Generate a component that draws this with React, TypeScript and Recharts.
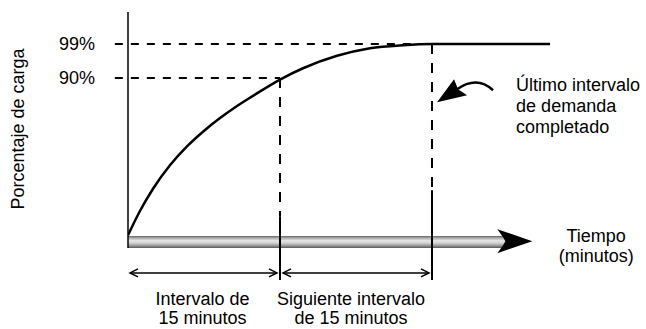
import { ComposedChart, Line, XAxis, YAxis, ReferenceLine, ReferenceArea, ReferenceDot } from 'recharts';

// curva de carga (tiempo en minutos, carga en %)
const TIEMPO = [0, 1.18, 2.47, 4.14, 5.82, 7.4, 9.08, 10.76, 12.34, 15, 17.27, 20.63, 23.88, 27.14, 30, 33.75, 41.65];
const CARGA = [48.4, 54.8, 60.7, 66.9, 71.9, 75.8, 79.4, 82.6, 85.3, 89.6, 92.6, 95.9, 97.9, 98.7, 99, 99, 99];

const Y_TICKS = [90, 99];
const FIN_INTERVALOS = [15, 30];

const EJE_Y = 'Porcentaje de carga';
const EJE_X = ['Tiempo', '(minutos)'];
const NOTA = ['Último intervalo', 'de demanda', 'completado'];
const INTERVALO_1 = ['Intervalo de', '15 minutos'];
const INTERVALO_2 = ['Siguiente intervalo', 'de 15 minutos'];

const data = TIEMPO.map((t, i) => ({ tiempo: t, carga: CARGA[i] }));

const FONT = 'Liberation Sans, Arial, Helvetica, sans-serif';
const FS = 18;

const texto = (lineas: string[], anchor: 'start' | 'middle', interlinea: number) => (p: any) => (
  <text x={p.cx} y={p.cy} textAnchor={anchor} fontSize={FS} fontFamily={FONT} fill="#000">
    {lineas.map((l, i) => (
      <tspan key={i} x={p.cx} dy={i === 0 ? 0 : interlinea}>{l}</tspan>
    ))}
  </text>
);

const textoGirado = (p: any) => (
  <text x={p.cx} y={p.cy} dy="0.35em" textAnchor="middle" fontSize={FS} fontFamily={FONT} fill="#000"
    transform={`rotate(-90, ${p.cx}, ${p.cy})`}>
    {EJE_Y}
  </text>
);

// flecha doble entre dos marcas
const flechaDoble = (p: any) => {
  const { x1, y1, x2, y2 } = p;
  return (
    <g stroke="#000" strokeWidth={1.5} fill="none">
      <line x1={x1} y1={y1} x2={x2} y2={y2} />
      <path d={`M${x1 + 8},${y1 - 4} L${x1},${y1} L${x1 + 8},${y1 + 4}`} />
      <path d={`M${x2 - 8},${y2 - 4} L${x2},${y2} L${x2 - 8},${y2 + 4}`} />
    </g>
  );
};

const puntaEje = (p: any) => (
  <path
    d={`M${p.cx},${p.cy} L${p.cx - 35},${p.cy - 12} Q${p.cx - 29},${p.cy - 4} ${p.cx - 27},${p.cy} Q${p.cx - 29},${p.cy + 4} ${p.cx - 35},${p.cy + 12} Z`}
    fill="#000"
  />
);

const flechaCurva = (p: any) => (
  <g>
    <path d={`M${p.cx + 56},${p.cy - 12} Q${p.cx + 40},${p.cy - 27} ${p.cx + 20},${p.cy - 13}`} stroke="#000" strokeWidth={2.5} fill="none" />
    <path d={`M${p.cx},${p.cy} L${p.cx + 17},${p.cy - 23} L${p.cx + 21},${p.cy - 13} L${p.cx + 30},${p.cy - 7} Z`} fill="#000" />
  </g>
);

export default function App() {
  return (
    <div style={{ position: 'absolute', left: 0, top: 0, background: '#fff' }}>
      <ComposedChart width={646} height={329} data={data} margin={{ top: 12, right: 62, bottom: 81, left: 0 }}>
        <defs>
          <linearGradient id="barra" x1="0" y1="0" x2="0" y2="1">
            <stop offset="0%" stopColor="#5e5e5e" />
            <stop offset="15%" stopColor="#a4a4a4" />
            <stop offset="40%" stopColor="#e8e8e8" />
            <stop offset="60%" stopColor="#cfcfcf" />
            <stop offset="85%" stopColor="#8c8c8c" />
            <stop offset="100%" stopColor="#555" />
          </linearGradient>
        </defs>
        <XAxis dataKey="tiempo" type="number" domain={[0, 45]} allowDataOverflow hide />
        <YAxis
          type="number"
          domain={[45, 107.5]}
          allowDataOverflow
          width={128}
          ticks={Y_TICKS}
          tickFormatter={(v) => `${v}%`}
          tickLine={false}
          tickMargin={27}
          axisLine={{ stroke: '#000', strokeWidth: 1.5 }}
          tick={{ fill: '#000', fontSize: FS, fontFamily: FONT }}
        />

        <ReferenceArea x1={0} x2={37.2} y1={45} y2={48.2} fill="url(#barra)" fillOpacity={1} ifOverflow="visible" />
        <ReferenceDot x={39.9} y={46.8} ifOverflow="visible" shape={puntaEje} />

        {Y_TICKS.map((v, i) => (
          <ReferenceLine
            key={`h${v}`}
            segment={[{ x: -1.3, y: v }, { x: FIN_INTERVALOS[i], y: v }]}
            stroke="#000"
            strokeWidth={2}
            strokeDasharray="8 8"
            ifOverflow="visible"
          />
        ))}
        <ReferenceLine segment={[{ x: 15, y: 90 }, { x: 15, y: 53.4 }]} stroke="#000" strokeWidth={2} strokeDasharray="10 9" ifOverflow="visible" />
        <ReferenceLine segment={[{ x: 15, y: 53.4 }, { x: 15, y: 36.5 }]} stroke="#000" strokeWidth={2} ifOverflow="visible" />
        <ReferenceLine segment={[{ x: 30, y: 99 }, { x: 30, y: 60.3 }]} stroke="#000" strokeWidth={2} strokeDasharray="10 9" ifOverflow="visible" />
        <ReferenceLine segment={[{ x: 30, y: 60.3 }, { x: 30, y: 36.5 }]} stroke="#000" strokeWidth={2} ifOverflow="visible" />

        <ReferenceLine segment={[{ x: 0.2, y: 38.4 }, { x: 14.7, y: 38.4 }]} ifOverflow="visible" shape={flechaDoble} />
        <ReferenceLine segment={[{ x: 15.3, y: 38.4 }, { x: 29.7, y: 38.4 }]} ifOverflow="visible" shape={flechaDoble} />

        <Line type="monotone" dataKey="carga" stroke="#000" strokeWidth={2.5} dot={false} isAnimationActive={false} />

        <ReferenceDot x={30.5} y={83.6} ifOverflow="visible" shape={flechaCurva} />
        <ReferenceDot x={-10.85} y={76.5} ifOverflow="visible" shape={textoGirado} />
        <ReferenceDot x={38.3} y={86.5} ifOverflow="visible" shape={texto(NOTA, 'start', 21)} />
        <ReferenceDot x={46.2} y={46.7} ifOverflow="visible" shape={texto(EJE_X, 'middle', 20)} />
        <ReferenceDot x={7.35} y={29.9} ifOverflow="visible" shape={texto(INTERVALO_1, 'middle', 19)} />
        <ReferenceDot x={22} y={29.9} ifOverflow="visible" shape={texto(INTERVALO_2, 'middle', 19)} />
      </ComposedChart>
    </div>
  );
}
